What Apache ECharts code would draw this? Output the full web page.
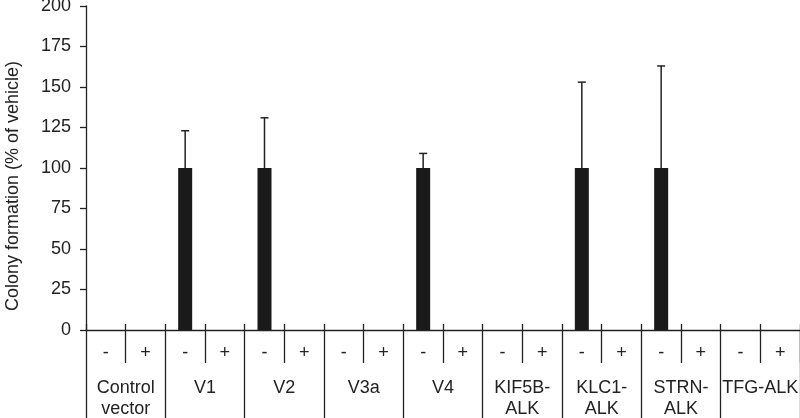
<!DOCTYPE html>
<html>
<head>
<meta charset="utf-8">
<script src="https://cdn.jsdelivr.net/npm/echarts@6/dist/echarts.min.js"></script>
<style>
  html, body { margin: 0; padding: 0; background: #fff; }
  #chart { width: 800px; height: 418px; }
</style>
</head>
<body>
<div id="chart"></div>
<script>
// groups and treatment (- / +) under each group
var groups = ['Control\nvector', 'V1', 'V2', 'V3a', 'V4', 'KIF5B-\nALK', 'KLC1-\nALK', 'STRN-\nALK', 'TFG-ALK'];
var treatments = ['-', '+'];
// colony formation (% of vehicle), one per group x treatment
var colony = [0, 0, 100, 0, 100, 0, 0, 0, 100, 0, 0, 0, 100, 0, 100, 0, 0, 0];
// top of error bar (mean + SD), null where none
var errTop = [null, null, 123, null, 131, null, null, null, 109, null, null, null, 153, null, 163, null, null, null];
var yTicks = [0, 25, 50, 75, 100, 125, 150, 175, 200];

var font = 'Liberation Sans, Arial, sans-serif';
var ink = '#222';

var subCats = [];
groups.forEach(function () {
    treatments.forEach(function (t) { subCats.push(t); });
});

var errData = [];
errTop.forEach(function (v, i) {
    if (v != null) errData.push([i, colony[i], v]);
});

var myChart = echarts.init(document.getElementById('chart'));
myChart.setOption({
    animation: false,
    grid: { left: 86, right: 0, top: 6, bottom: 88, outerBoundsMode: 'none', containLabel: false },
    xAxis: [
        {
            type: 'category',
            data: subCats,
            position: 'bottom',
            axisLine: { show: true, lineStyle: { color: ink, width: 1.3 } },
            axisTick: {
                show: true,
                length: 33,
                interval: function (i) { return i % 2 === 1; },
                lineStyle: { color: ink, width: 1.3 }
            },
            axisLabel: { interval: 0, margin: 14, fontSize: 18, color: ink, fontFamily: font }
        },
        {
            type: 'category',
            data: groups,
            position: 'bottom',
            axisLine: { show: false },
            axisTick: { show: true, length: 90, interval: 0, lineStyle: { color: ink, width: 1.3 } },
            axisLabel: { interval: 0, margin: 48, fontSize: 18, lineHeight: 21, color: ink, fontFamily: font }
        },
        {
            type: 'category',
            data: subCats,
            position: 'bottom',
            axisLine: { show: false },
            axisTick: { show: true, inside: true, length: 6, interval: 0, lineStyle: { color: ink, width: 1.3 } },
            axisLabel: { show: false }
        }
    ],
    yAxis: {
        type: 'value',
        min: 0,
        max: 200,
        interval: 25,
        name: 'Colony formation (% of vehicle)',
        nameLocation: 'middle',
        nameGap: 64,
        nameTextStyle: { fontSize: 18, color: ink, fontFamily: font, padding: [0, 36, 0, 0] },
        axisLine: { show: true, lineStyle: { color: ink, width: 1.3 } },
        axisTick: { show: true, length: 6, lineStyle: { color: ink, width: 1.3 } },
        splitLine: { show: false },
        axisLabel: {
            margin: 15, fontSize: 18, color: ink, fontFamily: font,
            formatter: function (v) { return yTicks.indexOf(v) >= 0 ? String(v) : ''; }
        }
    },
    series: [
        {
            type: 'bar',
            xAxisIndex: 0,
            data: colony,
            barWidth: 14,
            itemStyle: { color: '#1a1a1a' }
        },
        {
            type: 'custom',
            xAxisIndex: 0,
            data: errData,
            z: 1,
            renderItem: function (params, api) {
                var base = api.coord([api.value(0), api.value(1)]);
                var top = api.coord([api.value(0), api.value(2)]);
                var style = { stroke: ink, lineWidth: 1.5 };
                return {
                    type: 'group',
                    children: [
                        { type: 'line', shape: { x1: base[0], y1: base[1], x2: top[0], y2: top[1] }, style: style },
                        { type: 'line', shape: { x1: top[0] - 4, y1: top[1], x2: top[0] + 4, y2: top[1] }, style: style }
                    ]
                };
            }
        }
    ]
});
</script>
</body>
</html>
